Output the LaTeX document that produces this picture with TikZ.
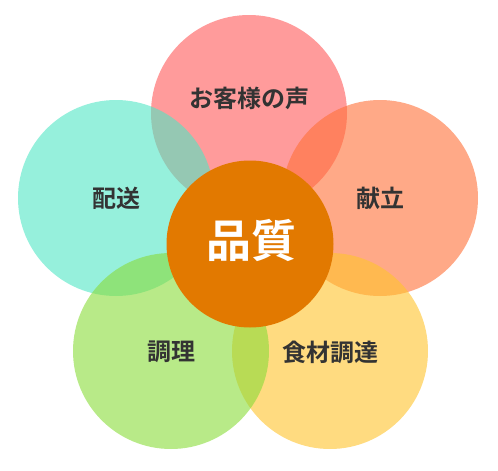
\documentclass[tikz,border=0pt]{standalone}
\usepackage{fontspec}
\usepackage{xcolor}
\usepackage{tikz}
\newfontfamily\jpfont{Noto Sans CJK JP}[BoldFont={Noto Sans CJK JP Bold}]
\definecolor{Koe}{RGB}{255,88,88}
\definecolor{Haiso}{RGB}{80,230,197}
\definecolor{Kondate}{RGB}{255,112,55}
\definecolor{Shokuzai}{RGB}{255,195,43}
\definecolor{Chori}{RGB}{137,220,57}
\definecolor{Core}{RGB}{226,121,0}
\definecolor{Ink}{RGB}{51,51,51}

\begin{document}
\begin{tikzpicture}[x=1pt,y=-1pt,
  petal/.style={circle,minimum size=196pt,inner sep=0pt,fill opacity=0.6},
  word/.style={font=\jpfont\bfseries\fontsize{24}{24}\selectfont,text=Ink,inner sep=0pt}]
\useasboundingbox (0,0) rectangle (498,471);
% five petals, back to front
\node[petal,fill=Koe] (koe) at (249,113) {};
\node[petal,fill=Haiso] (haiso) at (116,198) {};
\node[petal,fill=Kondate] (kondate) at (380,198) {};
\node[petal,fill=Shokuzai] (shokuzai) at (330,351) {};
\node[petal,fill=Chori] (chori) at (171,351) {};
% core
\node[circle,minimum size=167pt,inner sep=0pt,fill=Core] (hinshitsu) at (250,244) {};
\node[word] (koe text) at (249,98) {お客様の声};
\node[word] (haiso text) at (116,198) {配送};
\node[word] (kondate text) at (380,198) {献立};
\node[word] (chori text) at (171,352) {調理};
\node[word] (shokuzai text) at (330,352) {食材調達};
\node[word,text=white,font=\jpfont\bfseries\fontsize{45}{45}\selectfont] (hinshitsu text) at (251,240) {品質};
\end{tikzpicture}
\end{document}
